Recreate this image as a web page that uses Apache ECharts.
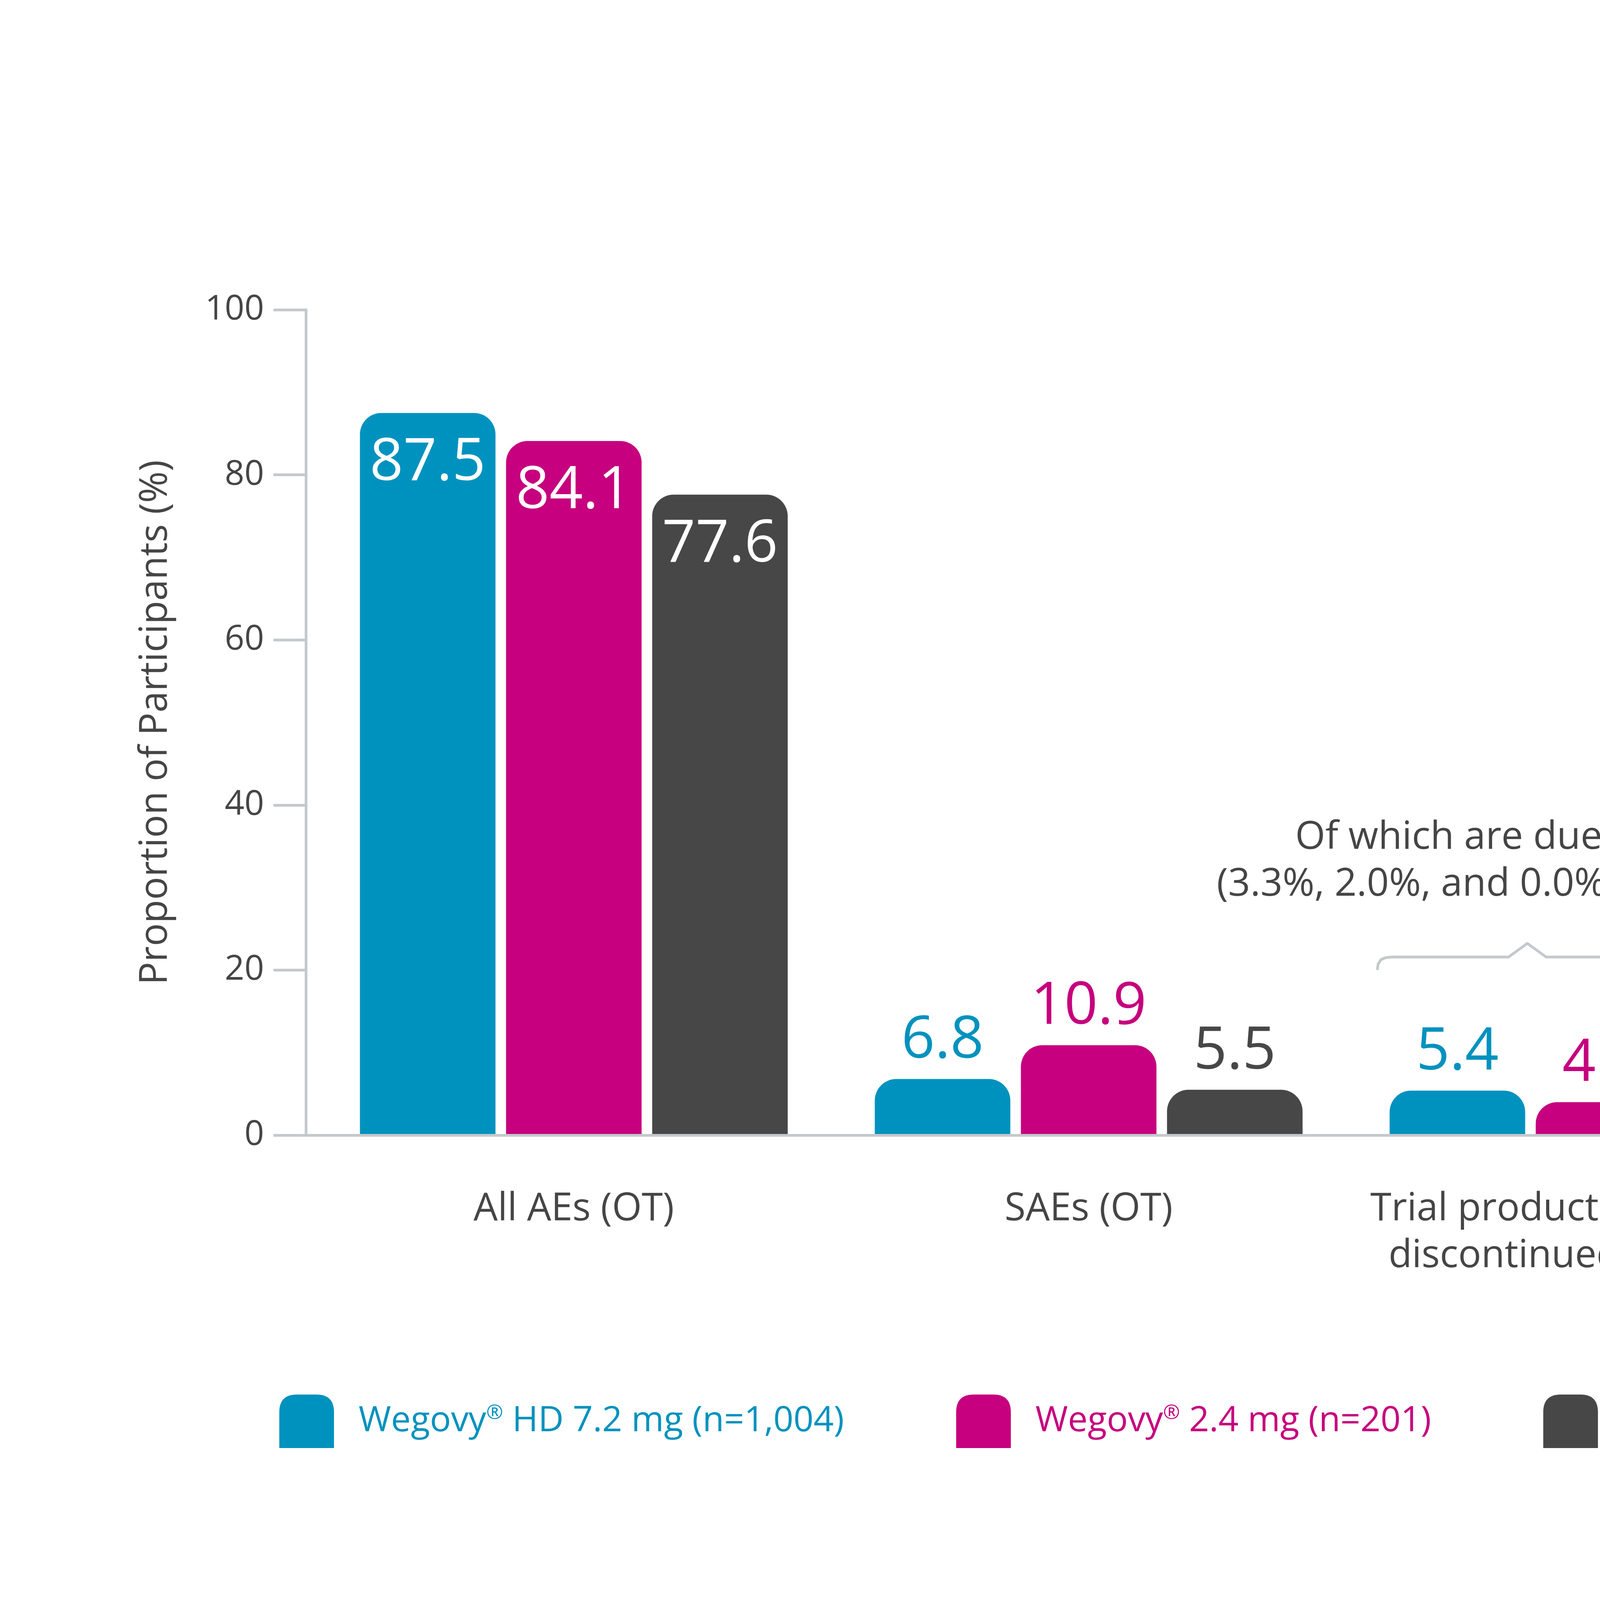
<!DOCTYPE html>
<html>

<head>
	<meta charset="utf-8">
	<title>AEs bar chart</title>
	<script src="https://cdn.jsdelivr.net/npm/echarts@6/dist/echarts.min.js" type="text/javascript" charset="utf-8"></script>
	<style>
		html, body { margin: 0; padding: 0; background: #fff; }
	</style>
</head>

<body>
	<div class="box" style="width: 5208px;height: 4100px;"></div>
	<script type="text/javascript">
		// 分类
		var categories = ['All AEs (OT)', 'SAEs (OT)', 'Trial product permanently\ndiscontinued due to AEs']
		// 各组的值 (%)
		var hdValues = [87.5, 6.8, 5.4]
		var lowValues = [84.1, 10.9, 4.0]
		var placeboValues = [77.6, 5.5, 1.0]
		var seriesNames = ['Wegovy® HD 7.2 mg (n=1,004)', 'Wegovy® 2.4 mg (n=201)', 'Placebo (n=201)']
		var colors = ['#0092be', '#c6007e', '#474747']
		var yTicks = { min: 0, max: 100, interval: 20 }
		var noteLines = ['Of which are due to GI AEs', '(3.3%, 2.0%, and 0.0%, respectively)']

		var font = "'Open Sans', 'Noto Sans', sans-serif"
		var axisGray = '#c4c9cc'
		var textGray = '#454545'

		const myEcharts = echarts.init(document.querySelector('.box'))

		// 第一组柱子的标签放在柱子里面（白色）
		function buildData(values) {
			return values.map(function (v, i) {
				if (i === 0) {
					return { value: v, label: { position: 'insideTop', color: '#fff', distance: 54 } }
				}
				return v
			})
		}

		function barSeries(name, values, color) {
			return {
				name: name,
				type: 'bar',
				xAxisIndex: 1,
				yAxisIndex: 1,
				barWidth: 347,
				barGap: '7.8%',
				data: buildData(values),
				itemStyle: { color: color, borderRadius: [55, 55, 0, 0] },
				label: {
					show: true,
					position: 'top',
					distance: 22,
					color: color,
					fontSize: 150,
					fontFamily: font,
					formatter: function (p) { return p.value.toFixed(1) }
				}
			}
		}

		const options = {
			animation: false,
			backgroundColor: '#fff',
			grid: [
				// 坐标轴用
				{ left: 783, right: 393, top: 793, bottom: 1194 },
				// 柱子用
				{ left: 810, width: 3954, top: 793, bottom: 1194 }
			],
			xAxis: [
				{
					gridIndex: 0, type: 'value', min: 0, max: 1, z: 5,
					axisLine: { show: true, lineStyle: { color: axisGray, width: 7 } },
					axisTick: { show: false }, axisLabel: { show: false }, splitLine: { show: false }
				},
				{
					gridIndex: 1, type: 'category', data: categories,
					axisLine: { show: false }, axisTick: { show: false },
					axisLabel: {
						interval: 0,
						margin: 130, fontSize: 98, lineHeight: 120, color: textGray, fontFamily: font
					}
				}
			],
			yAxis: [
				{
					gridIndex: 0, type: 'value', min: yTicks.min, max: yTicks.max, interval: yTicks.interval,
					name: 'Proportion of Participants (%)',
					nameLocation: 'middle',
					nameGap: 335,
					nameTextStyle: { fontSize: 98, color: textGray, fontFamily: font },
					axisLine: { show: true, lineStyle: { color: axisGray, width: 7 } },
					axisTick: { show: true, inside: false, length: 83, lineStyle: { color: axisGray, width: 7 } },
					axisLabel: { margin: 107, fontSize: 88, color: textGray, fontFamily: font },
					splitLine: { show: false }
				},
				{
					gridIndex: 1, type: 'value', min: yTicks.min, max: yTicks.max, show: false
				}
			],
			legend: {
				left: 710,
				top: 3565,
				itemWidth: 140,
				itemHeight: 137,
				itemGap: 287,
				icon: 'path://M0,137 L0,45 Q0,0 45,0 L95,0 Q140,0 140,45 L140,137 Z',
				data: seriesNames.map(function (n, i) {
					return { name: n, textStyle: { color: colors[i] } }
				}),
				formatter: function (name) { return name.replace('®', '{sup|®}') },
				textStyle: {
					fontSize: 90,
					fontWeight: 500,
					fontFamily: font,
					padding: [0, 0, 0, 58],
					rich: {
						sup: { fontSize: 52, fontWeight: 500, fontFamily: font, padding: [0, 0, 40, 0] }
					}
				}
			},
			graphic: [
				{
					type: 'text',
					x: 3927,
					y: 2085,
					style: {
						text: noteLines.join('\n'),
						align: 'center',
						fontSize: 99,
						lineHeight: 120,
						fill: textGray,
						fontFamily: font
					}
				},
				{
					// 大括号
					type: 'polyline',
					shape: {
						points: [
							[3526, 2483], [3528, 2468], [3535, 2457], [3546, 2452], [3560, 2450],
							[3862, 2450], [3910, 2415], [3958, 2450],
							[4262, 2450], [4276, 2452], [4287, 2457], [4293, 2468], [4295, 2483]
						]
					},
					style: { fill: null, stroke: axisGray, lineWidth: 7, lineJoin: 'round' }
				}
			],
			series: [
				barSeries(seriesNames[0], hdValues, colors[0]),
				barSeries(seriesNames[1], lowValues, colors[1]),
				barSeries(seriesNames[2], placeboValues, colors[2])
			]
		}

		myEcharts.setOption(options)
	</script>
</body>

</html>
